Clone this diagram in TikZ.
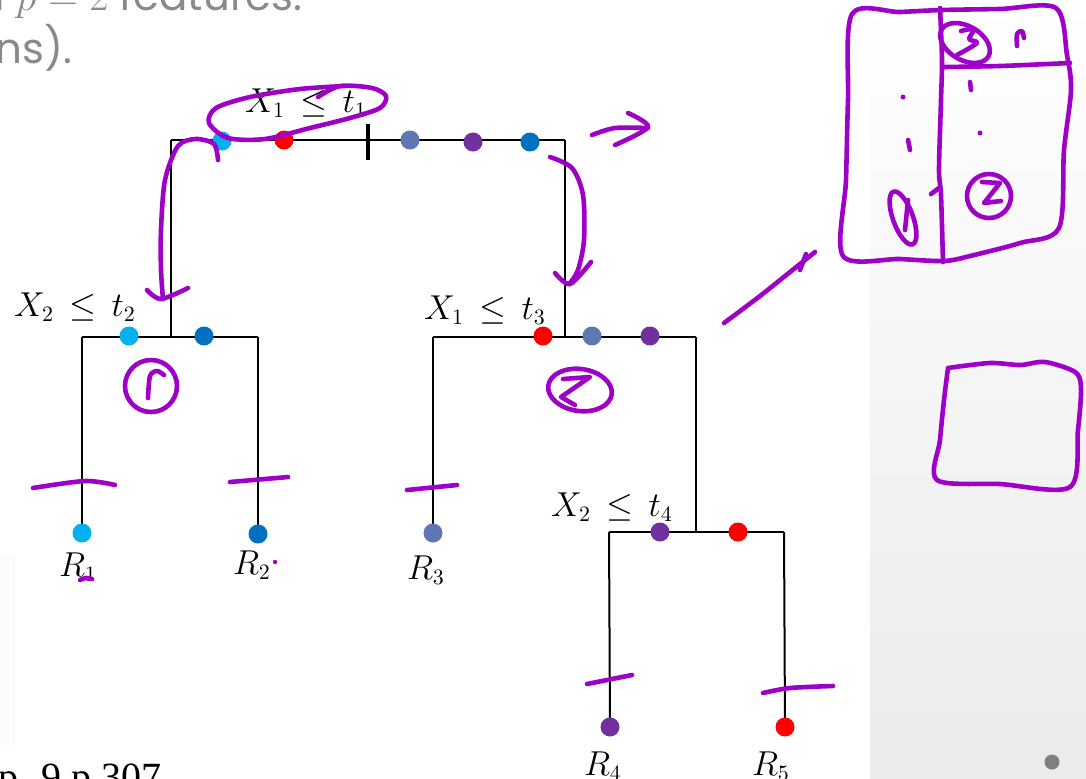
\documentclass[tikz,border=0pt]{standalone}
\usepackage{fontspec}
\newfontfamily\slidefont{Poppins}
\newfontfamily\capfont{Liberation Serif}
\usetikzlibrary{positioning, backgrounds}
\definecolor{leafcyan}{RGB}{0,176,240}
\definecolor{leafred}{RGB}{255,0,0}
\definecolor{leafslate}{RGB}{94,118,178}
\definecolor{leafpurple}{RGB}{112,48,160}
\definecolor{leafblue}{RGB}{0,112,192}
\definecolor{penpurple}{RGB}{158,0,200}
\definecolor{slidegray}{RGB}{138,138,138}
\tikzset{
  branch/.style={line width=1pt, black},
  splittick/.style={line width=2pt, black},
  leafdot/.style={circle, inner sep=0pt, minimum size=9.5pt},
  splitlabel/.style={font=\fontsize{16}{18}\selectfont, inner sep=0pt},
  leaflabel/.style={font=\fontsize{16}{18}\selectfont, inner sep=0pt},
  scribble/.style={penpurple, line width=2.3pt, line cap=round, line join=round},
  slidetext/.style={font=\slidefont\fontsize{21}{24}\selectfont, text=slidegray, inner sep=0pt},
}

\begin{document}
\begin{tikzpicture}[x=0.5pt, y=-0.5pt]
  \useasboundingbox (0,0) rectangle (1086,778);
  \clip (0,0) rectangle (1086,778);

  % slide background
  \begin{scope}[on background layer]
    \fill[white] (0,0) rectangle (1086,778);
    \shade[shading=axis, shading angle=45, top color=white, bottom color=gray!16]
      (870,0) rectangle (1086,778);
    \fill[gray!3] (0,555) rectangle (15,745);
  \end{scope}

  % split points of the tree
  \coordinate (n1L) at (171,140);
  \coordinate (n1R) at (565,140);
  \coordinate (cut1) at (368,140);
  \coordinate (n2) at (171,337);
  \coordinate (n2L) at (82,337);
  \coordinate (n2R) at (258,337);
  \coordinate (n3) at (565,337);
  \coordinate (n3L) at (433,337);
  \coordinate (n3R) at (696,337);
  \coordinate (n4) at (696,532);
  \coordinate (n4L) at (609,532);
  \coordinate (n4R) at (784,532);
  \coordinate (leaf1) at (82,533);
  \coordinate (leaf2) at (258,534);
  \coordinate (leaf3) at (433,533);
  \coordinate (leaf4) at (610,727);
  \coordinate (leaf5) at (785,727);

  \begin{scope}[on background layer]
    \foreach \a/\b in {n1L/n1R, n1L/n2, n1R/n3, n2L/n2R, n2L/leaf1, n2R/leaf2,
                       n3L/n3R, n3L/leaf3, n3R/n4, n4L/n4R, n4L/leaf4, n4R/leaf5}
      \draw[branch] (\a) -- (\b);
    \draw[splittick] (cut1) ++(0,-16) -- ++(0,36);
  \end{scope}

  % observations on each split
  \node[leafdot, fill=leafcyan]   (o1) at (222,141) {};
  \node[leafdot, fill=leafred]    (o2) at (284,140) {};
  \node[leafdot, fill=leafslate]  (o3) at (410,140) {};
  \node[leafdot, fill=leafpurple] (o4) at (473,142) {};
  \node[leafdot, fill=leafblue]   (o5) at (530,142) {};
  \node[leafdot, fill=leafcyan]   (p1) at (129,336) {};
  \node[leafdot, fill=leafblue]   (p2) at (204,336) {};
  \node[leafdot, fill=leafred]    (q1) at (543,336) {};
  \node[leafdot, fill=leafslate]  (q2) at (592,336) {};
  \node[leafdot, fill=leafpurple] (q3) at (650,336) {};
  \node[leafdot, fill=leafpurple] (s1) at (660,532) {};
  \node[leafdot, fill=leafred]    (s2) at (738,532) {};

  % leaves
  \node[leafdot, fill=leafcyan]   (r1) at (leaf1) {};
  \node[leafdot, fill=leafblue]   (r2) at (leaf2) {};
  \node[leafdot, fill=leafslate]  (r3) at (leaf3) {};
  \node[leafdot, fill=leafpurple] (r4) at (leaf4) {};
  \node[leafdot, fill=leafred]    (r5) at (leaf5) {};

  \node[splitlabel] (lab1) at (306,103) {$X_1\,\leq\,t_1$};
  \node[splitlabel] (lab2) at (75,307)  {$X_2\,\leq\,t_2$};
  \node[splitlabel] (lab3) at (485,310) {$X_1\,\leq\,t_3$};
  \node[splitlabel] (lab4) at (612,507) {$X_2\,\leq\,t_4$};
  \node[leaflabel] (lr1) at (78,567)  {$R_1$};
  \node[leaflabel] (lr2) at (252,565) {$R_2$};
  \node[leaflabel] (lr3) at (426,570) {$R_3$};
  \node[leaflabel] (lr4) at (603,766) {$R_4$};
  \node[leaflabel] (lr5) at (771,766) {$R_5$};

  % slide text
  \node[slidetext, anchor=base east] (line1) at (303,10) {from $p = 2$ features.};
  \node[slidetext, anchor=base east] (line2) at (73,63) {(two dimensions).};
  \node[font=\capfont\fontsize{20}{22}\selectfont, anchor=base west, inner sep=0pt]
    (source) at (-2,790) {p. 9 p.307};
  \node[leafdot, fill=gray, minimum size=7.5pt] (pagemark) at (1052,762) {};

  % handwriting
  \draw[scribble] plot[smooth] coordinates {(318,97) (340,86) (372,88) (386,96) (380,108)
    (350,118) (310,128) (265,139) (228,138) (209,123) (216,108) (250,97) (300,89) (345,86)};
  \draw[scribble] plot[smooth] coordinates {(218,160) (214,144) (196,139) (178,146)
    (165,180) (161,230) (161,270) (163,299)};
  \draw[scribble] plot[smooth] coordinates {(147,290) (161,299) (188,288)};
  \draw[scribble] plot[smooth] coordinates {(550,157) (572,168) (583,195) (584,240)
    (578,270) (570,283)};
  \draw[scribble] plot[smooth] coordinates {(555,273) (570,284) (591,262)};
  \draw[scribble] plot[smooth] coordinates {(592,135) (615,128) (648,128)};
  \draw[scribble] plot[smooth] coordinates {(628,113) (648,127) (615,145)};
  \draw[scribble] plot[smooth] coordinates {(724,323) (760,296) (790,272) (815,252)};
  \draw[scribble] (800,270) -- (806,254);

  \draw[scribble] (151,386) ellipse [x radius=26, y radius=26];
  \draw[scribble] plot[smooth] coordinates {(148,398) (150,376) (157,371) (164,375)};
  \draw[scribble, rotate around={-8:(580,390)}] (580,390) ellipse [x radius=32, y radius=21];
  \draw[scribble] (563,379) -- (590,377) -- (561,397) -- (575,405);

  \draw[scribble] plot[smooth] coordinates {(33,488) (85,481) (115,485)};
  \draw[scribble] (230,482) -- (288,477);
  \draw[scribble] (407,490) -- (457,485);
  \draw[scribble] (587,684) -- (632,675);
  \draw[scribble] plot[smooth] coordinates {(763,693) (790,688) (833,686)};
  \draw[scribble] plot[smooth] coordinates {(80,580) (86,578) (92,579)};
  \fill[penpurple] (275,562) circle (2.2);

  % sketch of the partition
  \draw[scribble] plot[smooth cycle] coordinates {(852,14) (900,12) (942,10) (1000,9)
    (1056,8) (1067,55) (1071,90) (1064,150) (1059,228) (1020,243) (970,256)
    (944,261) (900,259) (843,256) (846,180) (848,100)};
  \draw[scribble] plot[smooth] coordinates {(940,8) (942,60) (941,100) (939,170)
    (941,195) (943,262)};
  \draw[scribble] (931,194) -- (939,188);
  \draw[scribble] plot[smooth] coordinates {(943,67) (1000,66) (1070,63)};
  \draw[scribble, rotate around={-30:(965,43)}] (965,43) ellipse [x radius=27, y radius=17];
  \draw[scribble] plot[smooth] coordinates {(961,31) (974,29) (969,39) (977,43) (957,55)};
  \draw[scribble] plot[smooth] coordinates {(1017,46) (1017,34) (1022,31) (1024,38)};
  \fill[penpurple] (903,97) circle (2.5);
  \draw[scribble] (908,140) -- (910,150);
  \draw[scribble] (970,82) -- (971,90);
  \fill[penpurple] (980,133) circle (2.5);
  \draw[scribble] (989,196) circle (22);
  \draw[scribble] (982,182) -- (1000,183) -- (984,203) -- (1001,201);
  \draw[scribble, rotate around={20:(903,218)}] (903,218) ellipse [x radius=10, y radius=28];
  \draw[scribble] (908,200) -- (905,230);

  \draw[scribble] plot[smooth] coordinates {(948,368) (990,363) (1020,365) (1045,362)
    (1075,372) (1081,388) (1078,430) (1070,487) (1000,484) (937,480) (940,440)
    (944,400) (948,368)};
\end{tikzpicture}
\end{document}
